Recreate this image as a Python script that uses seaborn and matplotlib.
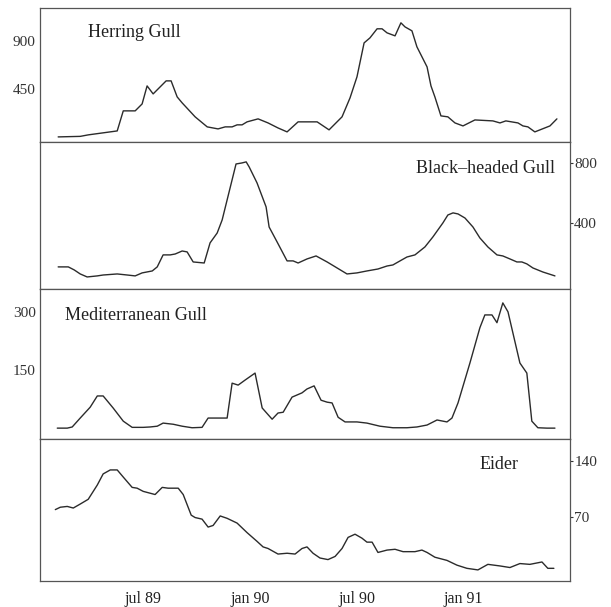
"""Monthly gull and eider counts, four stacked panels on a shared time axis."""
import matplotlib

matplotlib.use("Agg")
import matplotlib.pyplot as plt
import pandas as pd
import seaborn as sns

# x positions are months counted from July 1989
herring_x = [-4.78, -3.54, -3.09, -1.46, -1.12, -0.45, -0.06, 0.22, 0.56, 1.29,
             1.57, 1.91, 2.19, 2.92, 3.60, 4.21, 4.61, 5.00, 5.28, 5.56,
             5.84, 6.46, 7.02, 7.58, 8.09, 8.71, 9.78, 10.45, 11.18, 11.63,
             12.02, 12.42, 12.75, 13.15, 13.43, 13.71, 14.16, 14.49, 14.72, 15.11,
             15.39, 15.96, 16.18, 16.40, 16.74, 17.13, 17.53, 17.98, 18.65, 19.66,
             20.06, 20.39, 21.07, 21.35, 21.63, 22.02, 22.87, 23.26]
herring_n = [0, 5, 19, 56, 244, 244, 309, 478, 403, 525,
             525, 375, 319, 188, 94, 75, 94, 94, 113, 113,
             141, 169, 131, 84, 47, 141, 141, 66, 188, 366,
             563, 881, 928, 1013, 1013, 975, 947, 1069, 1031, 994,
             844, 656, 478, 375, 197, 188, 131, 103, 159, 150,
             131, 150, 131, 103, 94, 47, 103, 169]

blackhead_x = [-4.78, -4.21, -3.88, -3.54, -3.15, -2.58, -2.25, -1.46, -0.90, -0.45,
               -0.06, 0.51, 0.79, 1.12, 1.52, 1.80, 2.19, 2.47, 2.81, 3.43,
               3.76, 4.16, 4.44, 5.22, 5.56, 5.79, 5.96, 6.40, 6.91, 7.08,
               7.53, 8.09, 8.43, 8.71, 9.21, 9.72, 10.34, 10.90, 11.46, 12.02,
               12.58, 13.20, 13.71, 14.04, 14.44, 14.83, 15.28, 15.84, 16.29, 16.85,
               17.13, 17.42, 17.70, 18.09, 18.54, 18.93, 19.38, 19.89, 20.22, 20.62,
               21.01, 21.29, 21.57, 21.91, 22.47, 23.15]
blackhead_n = [107, 107, 87, 60, 40, 47, 53, 60, 53, 47,
               67, 80, 107, 187, 187, 193, 213, 207, 140, 133,
               267, 333, 420, 793, 800, 807, 773, 667, 507, 373,
               273, 147, 147, 133, 160, 180, 140, 100, 60, 67,
               80, 93, 113, 120, 147, 173, 187, 240, 307, 400,
               453, 467, 460, 433, 373, 300, 240, 187, 180, 160,
               140, 140, 127, 100, 73, 47]

med_x = [-4.83, -4.27, -3.99, -3.54, -2.98, -2.58, -2.25, -1.69, -1.12, -0.62,
         0.00, 0.39, 0.79, 1.12, 1.69, 2.19, 2.47, 2.75, 3.31, 3.65,
         3.93, 4.72, 5.00, 5.34, 5.73, 6.29, 6.69, 7.25, 7.58, 7.87,
         8.37, 8.93, 9.21, 9.61, 10.0, 10.34, 10.62, 10.96, 11.35, 12.02,
         12.58, 13.31, 14.04, 14.83, 15.39, 15.96, 16.52, 17.08, 17.36, 17.70,
         18.37, 18.93, 19.21, 19.61, 19.89, 20.22, 20.51, 21.18, 21.57, 21.85,
         22.19, 22.70, 23.15]
med_n = [0, 0, 3, 26, 54, 83, 83, 52, 18, 2,
         2, 3, 5, 13, 10, 5, 3, 1, 2, 26,
         26, 26, 116, 111, 124, 142, 52, 23, 39, 41,
         80, 91, 101, 109, 72, 67, 65, 28, 16, 16,
         13, 5, 1, 1, 3, 8, 21, 16, 26, 65,
         168, 259, 292, 292, 272, 323, 300, 168, 142, 18,
         1, 0, 0]

eider_x = [-4.94, -4.66, -4.27, -3.93, -3.54, -3.09, -2.58, -2.25, -1.85, -1.46,
           -1.12, -0.62, -0.34, 0.00, 0.67, 1.07, 1.40, 1.97, 2.25, 2.70,
           2.92, 3.31, 3.65, 3.93, 4.33, 4.72, 5.28, 5.84, 6.40, 6.74,
           7.02, 7.58, 8.09, 8.54, 8.93, 9.21, 9.55, 9.94, 10.39, 10.79,
           11.18, 11.52, 11.91, 12.30, 12.58, 12.87, 13.20, 13.71, 14.16, 14.61,
           15.28, 15.67, 15.96, 16.40, 17.08, 17.64, 18.20, 18.82, 19.38, 20.06,
           20.62, 21.18, 21.74, 22.42, 22.75, 23.09]
eider_n = [79, 82, 83, 81, 86, 92, 110, 124, 129, 129,
           120, 107, 106, 102, 98, 107, 106, 106, 98, 72,
           69, 67, 57, 59, 71, 68, 62, 50, 39, 32,
           30, 23, 24, 23, 30, 32, 24, 18, 16, 20,
           30, 44, 48, 43, 38, 38, 25, 28, 29, 26,
           26, 28, 25, 19, 15, 9, 5, 3, 10, 8,
           6, 11, 10, 13, 5, 5]

tick_pos = [0, 6, 12, 18]
tick_labels = ["jul 89", "jan 90", "jul 90", "jan 91"]

panels = [
    # name, x, y, ylim, yticks, tick side, label x, label ha
    ("Herring Gull", herring_x, herring_n, (-47, 1209), [450, 900], "left", 0.091, "left"),
    ("Black\u2013headed Gull", blackhead_x, blackhead_n, (-40, 940), [400, 800], "right", 0.972, "right"),
    ("Mediterranean Gull", med_x, med_n, (-28, 359), [150, 300], "left", 0.047, "left"),
    ("Eider", eider_x, eider_n, (-11, 168), [70, 140], "right", 0.902, "right"),
]

sns.set_style("white")
plt.rcParams["font.family"] = ["Liberation Serif", "DejaVu Serif"]

fig, axes = plt.subplots(
    4, 1, figsize=(6.11, 6.07), dpi=100, sharex=True,
    gridspec_kw={"height_ratios": [134, 147, 150, 142], "hspace": 0},
)
fig.subplots_adjust(left=0.0655, right=0.933, top=0.987, bottom=0.0428)

for ax, (name, xs, ys, ylim, yticks, side, lx, ha) in zip(axes, panels):
    df = pd.DataFrame({"month": xs, "count": ys})
    sns.lineplot(data=df, x="month", y="count", ax=ax, color="#2b2b2b", linewidth=1.0)
    ax.set_ylim(*ylim)
    ax.set_xlim(-5.8, 24.0)
    ax.set_yticks(yticks)
    ax.set_xlabel("")
    ax.set_ylabel("")
    if side == "right":
        ax.yaxis.tick_right()
    ax.tick_params(axis="y", length=2, width=0.8, pad=1, labelsize=11, colors="#333333")
    for s in ax.spines.values():
        s.set_color("#555555")
        s.set_linewidth(0.9)
    ax.text(lx, 0.82, name, transform=ax.transAxes, ha=ha, va="center",
            fontsize=13, color="#222222")

axes[-1].set_xticks(tick_pos)
axes[-1].set_xticklabels(tick_labels)
for ax in axes:
    ax.tick_params(axis="x", direction="in", length=4, width=0.6, colors="#888888",
                   labelcolor="#222222", labelsize=11.5, pad=7)

fig.savefig("out.png", dpi=100)
